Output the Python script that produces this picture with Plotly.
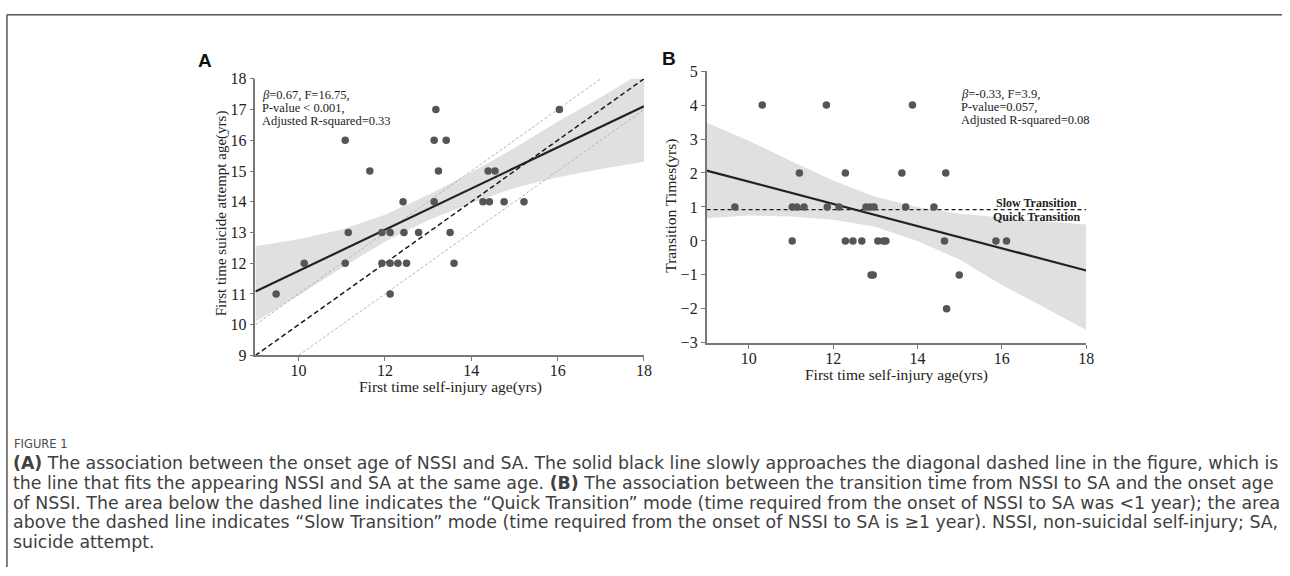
import plotly.graph_objects as go

W, H = 1290, 576

# ---------------- data ----------------
# Panel A: first NSSI age vs first SA age
a_x = [9.48, 10.13, 11.08, 11.08, 11.15, 11.65, 11.93, 11.93, 12.12, 12.12, 12.12, 12.30, 12.50,
       12.42, 12.44, 12.78, 13.14, 13.14, 13.18, 13.42, 13.24, 13.51, 13.60, 14.27, 14.42, 14.39,
       14.55, 14.76, 15.22, 16.04]
a_y = [11, 12, 12, 16, 13, 15, 13, 12, 13, 12, 11, 12, 12,
       14, 13, 13, 14, 16, 17, 16, 15, 13, 12, 14, 14, 15,
       15, 14, 14, 17]
a_fit_x = [9, 18]
a_fit_y = [11.08, 17.11]
a_band_x = [9, 10, 11, 12, 13, 14, 15, 16, 17, 18]
a_band_up = [12.55, 12.78, 13.10, 13.58, 14.22, 14.95, 15.75, 16.60, 17.40, 18.25]
a_band_lo = [10.10, 10.95, 11.85, 12.70, 13.40, 13.95, 14.45, 14.80, 15.07, 15.30]
a_diag_x = [9, 18]
a_diag_y = [9, 18]
a_plus1_x = [9, 17]
a_plus1_y = [10, 18]
a_minus1_x = [10, 18]
a_minus1_y = [9, 17]

# Panel B: first NSSI age vs transition time
b_x = [10.32, 11.84, 13.88,
       11.20, 12.29, 13.63, 14.67,
       9.67, 11.03, 11.14, 11.31, 11.86, 12.14, 12.78, 12.88, 12.97, 13.72, 14.39,
       11.03, 12.29, 12.47, 12.68, 13.06, 13.19, 13.25, 14.64, 15.86, 16.11,
       12.90, 12.95, 14.99,
       14.69]
b_y = [4, 4, 4,
       2, 2, 2, 2,
       1, 1, 1, 1, 1, 1, 1, 1, 1, 1, 1,
       0, 0, 0, 0, 0, 0, 0, 0, 0, 0,
       -1, -1, -1,
       -2]
b_fit_x = [9, 18]
b_fit_y = [2.07, -0.87]
b_band_x = [9, 10, 11, 12, 13, 14, 15, 16, 17, 18]
b_band_up = [3.48, 2.95, 2.35, 1.78, 1.30, 1.00, 0.80, 0.68, 0.58, 0.48]
b_band_lo = [0.67, 0.75, 0.72, 0.62, 0.42, 0.00, -0.55, -1.30, -1.95, -2.62]
b_thresh_x = [9, 18]
b_thresh_y = [0.92, 0.92]

a_xticks = [10, 12, 14, 16, 18]
a_yticks = [9, 10, 11, 12, 13, 14, 15, 16, 17, 18]
b_xticks = [10, 12, 14, 16, 18]
b_yticks = [-3, -2, -1, 0, 1, 2, 3, 4, 5]

a_stats = ["<i>β</i>=0.67, F=16.75,", "P-value &lt; 0.001,", "Adjusted R-squared=0.33"]
b_stats = ["<i>β</i>=-0.33, F=3.9,", "P-value=0.057,", "Adjusted R-squared=0.08"]

caption_lines = [
    "<b>(A)</b> The association between the onset age of NSSI and SA. The solid black line slowly approaches the diagonal dashed line in the figure, which is",
    "the line that fits the appearing NSSI and SA at the same age. <b>(B)</b> The association between the transition time from NSSI to SA and the onset age",
    "of NSSI. The area below the dashed line indicates the “Quick Transition” mode (time required from the onset of NSSI to SA was &lt;1 year); the area",
    "above the dashed line indicates “Slow Transition” mode (time required from the onset of NSSI to SA is ≥1 year). NSSI, non-suicidal self-injury; SA,",
    "suicide attempt.",
]

# ---------------- style ----------------
SERIF = "Liberation Serif, Times New Roman, serif"
CAP = "DejaVu Sans, sans-serif"
DOT = "#555555"
BAND = "#e0e0e0"
AX = "#777777"


def px(x):
    return x / W


def py(y):
    return 1 - y / H


fig = go.Figure()

# Panel A
fig.add_trace(go.Scatter(x=a_band_x + a_band_x[::-1], y=a_band_up + a_band_lo[::-1], fill="toself",
                         fillcolor=BAND, line=dict(width=0), mode="lines", hoverinfo="skip",
                         xaxis="x", yaxis="y"))
for xs, ys in [(a_plus1_x, a_plus1_y), (a_minus1_x, a_minus1_y)]:
    fig.add_trace(go.Scatter(x=xs, y=ys, mode="lines", line=dict(color="#b4b4b4", width=1, dash="3px,2px"),
                             xaxis="x", yaxis="y"))
fig.add_trace(go.Scatter(x=a_diag_x, y=a_diag_y, mode="lines", line=dict(color="#1a1a1a", width=1.5, dash="5px,3px"),
                         xaxis="x", yaxis="y"))
fig.add_trace(go.Scatter(x=a_fit_x, y=a_fit_y, mode="lines", line=dict(color="#222222", width=2.2),
                         xaxis="x", yaxis="y"))
fig.add_trace(go.Scatter(x=a_x, y=a_y, mode="markers", marker=dict(color=DOT, size=7.5),
                         xaxis="x", yaxis="y"))

# Panel B
fig.add_trace(go.Scatter(x=b_band_x + b_band_x[::-1], y=b_band_up + b_band_lo[::-1], fill="toself",
                         fillcolor=BAND, line=dict(width=0), mode="lines", hoverinfo="skip",
                         xaxis="x2", yaxis="y2"))
fig.add_trace(go.Scatter(x=b_thresh_x, y=b_thresh_y, mode="lines", line=dict(color="#1a1a1a", width=1.2, dash="4px,3px"),
                         xaxis="x2", yaxis="y2"))
fig.add_trace(go.Scatter(x=b_fit_x, y=b_fit_y, mode="lines", line=dict(color="#222222", width=2.2),
                         xaxis="x2", yaxis="y2"))
fig.add_trace(go.Scatter(x=b_x, y=b_y, mode="markers", marker=dict(color=DOT, size=7.5),
                         xaxis="x2", yaxis="y2"))

axis_common = dict(showline=True, linecolor=AX, linewidth=1.5, ticks="outside", ticklen=4, tickwidth=1.2,
                   tickcolor=AX, showgrid=False, zeroline=False, mirror=False,
                   tickfont=dict(family=SERIF, size=16, color="#222222"))

fig.update_layout(
    width=W, height=H, margin=dict(l=0, r=0, t=0, b=0),
    paper_bgcolor="white", plot_bgcolor="white", showlegend=False,
    xaxis=dict(domain=[px(257), px(648)], range=[9, 18], tickvals=a_xticks, anchor="y",
               ticklabelstandoff=-4, **axis_common),
    yaxis=dict(domain=[py(358), py(73)], range=[9, 18], tickvals=a_yticks, anchor="x", **axis_common),
    xaxis2=dict(domain=[px(711), px(1093)], range=[9, 18], tickvals=b_xticks, anchor="y2",
                ticklabelstandoff=-4, **axis_common),
    yaxis2=dict(domain=[py(345), py(65)], range=[-3, 5], tickvals=b_yticks, anchor="x2", **axis_common),
)

ann = []


def add_text(text, x, y, size, family=SERIF, color="#222222", xanchor="center", angle=0, bold=False):
    ann.append(dict(text=("<b>%s</b>" % text) if bold else text, x=px(x), y=py(y), xref="paper", yref="paper",
                    showarrow=False, xanchor=xanchor, yanchor="middle", textangle=angle,
                    font=dict(family=family, size=size, color=color)))


# axis titles
add_text("First time self-injury age(yrs)", 453, 391, 15.5)
add_text("First time suicide attempt age(yrs)", 223, 212, 15, angle=-90)
add_text("First time self-injury age(yrs)", 902, 378, 15.5)
add_text("Transition Times(yrs)", 675, 204, 15.5, angle=-90)

# stats text
for i, t in enumerate(a_stats):
    add_text(t, 262, 90 + 13 * i, 12.5, xanchor="left")
for i, t in enumerate(b_stats):
    add_text(t, 965, 89 + 13 * i, 12.5, xanchor="left")

# transition labels
add_text("Slow Transition", 1043, 201, 12, bold=True)
add_text("Quick Transition", 1043, 215, 12, bold=True)

# panel letters
add_text("A", 206, 54, 19, family="Liberation Sans, Arial, sans-serif", color="#111111", bold=True)
add_text("B", 673, 52, 19, family="Liberation Sans, Arial, sans-serif", color="#111111", bold=True)

# caption
add_text("FIGURE 1", 12, 449, 11.5, family=CAP, color="#4a4a4a", xanchor="left")
for i, t in enumerate(caption_lines):
    add_text(t, 11, 469 + 20.3 * i, 17.35, family=CAP, color="#404040", xanchor="left")

fig.update_layout(annotations=ann)

# frame (top and left edges)
fig.update_layout(shapes=[
    dict(type="line", xref="paper", yref="paper", x0=px(7), x1=1, y0=py(7), y1=py(7),
         line=dict(color="#555555", width=1.5)),
    dict(type="line", xref="paper", yref="paper", x0=px(7), x1=px(7), y0=py(7), y1=0,
         line=dict(color="#555555", width=1.5)),
])

# remove the default 8px page margin so the figure fills the window exactly
fig.write_html("out.html", config={"displayModeBar": False},
               post_script="document.body.style.margin='0px';")
